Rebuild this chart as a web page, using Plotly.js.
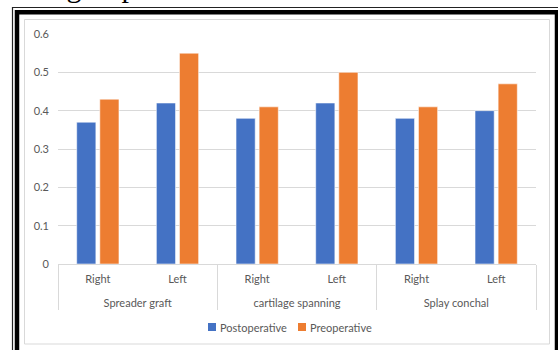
<!DOCTYPE html>
<html>
<head>
<meta charset="utf-8">
<script src="https://cdn.plot.ly/plotly-3.0.1.min.js"></script>
<style>
  html, body { margin: 0; padding: 0; background: #fff; }
  #chart { width: 558px; height: 350px; }
</style>
</head>
<body>
<div id="chart"></div>
<script>
// Technique groups and the side measured within each group
const groups = ['Spreader graft', 'cartilage spanning', 'Splay conchal'];
const sides = ['Right', 'Left'];

// Measured values, in order: group 1 Right, group 1 Left, group 2 Right, ...
const postoperative = [0.37, 0.42, 0.38, 0.42, 0.38, 0.40];
const preoperative = [0.43, 0.55, 0.41, 0.50, 0.41, 0.47];

const seriesNames = ['Postoperative', 'Preoperative'];
const seriesColors = ['#4472C4', '#ED7D31'];

const yTicks = [0, 0.1, 0.2, 0.3, 0.4, 0.5, 0.6];
const captionText = 'the spread of groups.';

// Two-level category axis: outer = group, inner = side.
// A blank second line under each side label opens the gap to the group row.
const outer = [];
const inner = [];
groups.forEach(g => sides.forEach(s => { outer.push(g); inner.push(s + '<br>\u00A0'); }));

const W = 558, H = 350;
const M = { l: 58, r: 22, t: 34, b: 86 };
const plotW = W - M.l - M.r, plotH = H - M.t - M.b;
// pixel -> paper helpers for frame and legend decorations
const px = x => (x - M.l) / plotW;
const py = y => (H - M.b - y) / plotH;

const font = 'Lato, "Open Sans", "DejaVu Sans", sans-serif';

const traces = [postoperative, preoperative].map((vals, i) => ({
  type: 'bar',
  name: seriesNames[i],
  x: [outer, inner],
  y: vals,
  marker: { color: seriesColors[i], line: { color: 'rgba(255,255,255,0.55)', width: 1 } },
  showlegend: false,
  hoverinfo: 'y'
}));

const shapes = [
  // outer thin frame line
  { type: 'rect', xref: 'paper', yref: 'paper', x0: px(12.5), x1: px(575), y0: py(7.5), y1: py(370),
    line: { color: '#222', width: 1.2 }, layer: 'above' },
  // thick black frame
  { type: 'rect', xref: 'paper', yref: 'paper', x0: px(17), x1: px(557), y0: py(12.3), y1: py(372),
    line: { color: '#000', width: 4.5 }, layer: 'above' },
  // chart area border
  { type: 'rect', xref: 'paper', yref: 'paper', x0: px(24.5), x1: px(549.5), y0: py(19.5), y1: py(344),
    line: { color: '#D9D9D9', width: 1 }, layer: 'below' }
];

// legend swatches and labels
const legendX = [208, 298];
const annotations = [];
seriesNames.forEach((n, i) => {
  shapes.push({ type: 'rect', xref: 'paper', yref: 'paper',
    x0: px(legendX[i]), x1: px(legendX[i] + 8), y0: py(331), y1: py(323),
    fillcolor: seriesColors[i], line: { width: 0 } });
  annotations.push({ xref: 'paper', yref: 'paper', x: px(legendX[i] + 10), y: py(327),
    xanchor: 'left', yanchor: 'middle', showarrow: false, text: n,
    font: { family: font, size: 11, color: '#595959' } });
});

// caption line running above the framed figure
annotations.push({ xref: 'paper', yref: 'paper', x: px(158), y: py(5), xanchor: 'right', yanchor: 'bottom',
  showarrow: false, text: captionText, font: { family: '"Liberation Serif", "DejaVu Serif", serif', size: 30, color: '#000' } });

const layout = {
  width: W, height: H,
  margin: M,
  paper_bgcolor: '#fff', plot_bgcolor: '#fff',
  barmode: 'group', bargap: 0.42, bargroupgap: 0.17,
  showlegend: false,
  font: { family: font, size: 11, color: '#595959' },
  xaxis: {
    type: 'multicategory',
    showline: true, linecolor: '#D9D9D9', linewidth: 1,
    showgrid: false, ticks: '',
    showdividers: true, dividercolor: '#D9D9D9', dividerwidth: 1,
    ticklabelstandoff: 5,
    tickfont: { family: font, size: 11, color: '#595959' }
  },
  yaxis: {
    range: [0, 0.6], tickvals: yTicks, ticktext: yTicks.map(v => String(v)),
    showgrid: true, gridcolor: '#D9D9D9', gridwidth: 1,
    zeroline: false, showline: false, ticks: '',
    ticklabelstandoff: 8,
    tickfont: { family: font, size: 11, color: '#595959' }
  },
  shapes: shapes,
  annotations: annotations
};

Plotly.newPlot('chart', traces, layout, { displayModeBar: false, staticPlot: true });
</script>
</body>
</html>
